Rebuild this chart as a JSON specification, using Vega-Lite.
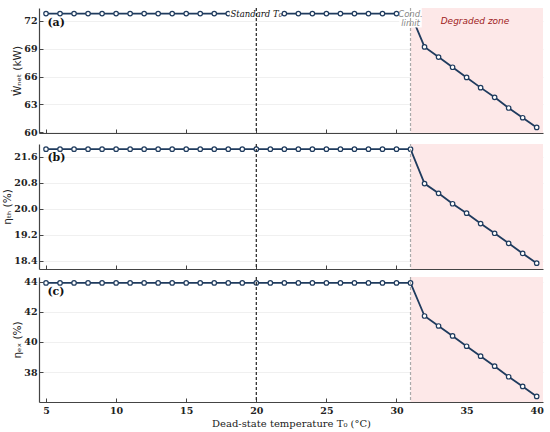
{
  "$schema": "https://vega.github.io/schema/vega-lite/v6.json",
  "background": "white",
  "padding": {"left": 2, "top": 7, "right": 7, "bottom": 0},
  "spacing": 6,
  "config": {
    "view": {"stroke": null},
    "axis": {
      "labelFont": "DejaVu Serif", "labelFontWeight": "bold", "labelFontSize": 9.5, "labelColor": "#222",
      "titleFont": "DejaVu Sans", "titleFontWeight": "normal", "titleFontSize": 10.5, "titleColor": "#222",
      "domainColor": "#444", "domainWidth": 1.2, "tickColor": "#444", "tickSize": -4, "labelPadding": 6,
      "labelOverlap": false, "minExtent": 0,
      "gridColor": "#ececec", "gridWidth": 0.8
    }
  },
  "datasets": {
    "perf": [
      {"T": 5, "W": 72.8, "th": 21.83, "ex": 43.91},
      {"T": 6, "W": 72.8, "th": 21.83, "ex": 43.91},
      {"T": 7, "W": 72.8, "th": 21.83, "ex": 43.91},
      {"T": 8, "W": 72.8, "th": 21.83, "ex": 43.91},
      {"T": 9, "W": 72.8, "th": 21.83, "ex": 43.91},
      {"T": 10, "W": 72.8, "th": 21.83, "ex": 43.91},
      {"T": 11, "W": 72.8, "th": 21.83, "ex": 43.91},
      {"T": 12, "W": 72.8, "th": 21.83, "ex": 43.91},
      {"T": 13, "W": 72.8, "th": 21.83, "ex": 43.91},
      {"T": 14, "W": 72.8, "th": 21.83, "ex": 43.91},
      {"T": 15, "W": 72.8, "th": 21.83, "ex": 43.91},
      {"T": 16, "W": 72.8, "th": 21.83, "ex": 43.91},
      {"T": 17, "W": 72.8, "th": 21.83, "ex": 43.91},
      {"T": 18, "W": 72.8, "th": 21.83, "ex": 43.91},
      {"T": 19, "W": 72.8, "th": 21.83, "ex": 43.91},
      {"T": 20, "W": 72.8, "th": 21.83, "ex": 43.91},
      {"T": 21, "W": 72.8, "th": 21.83, "ex": 43.91},
      {"T": 22, "W": 72.8, "th": 21.83, "ex": 43.91},
      {"T": 23, "W": 72.8, "th": 21.83, "ex": 43.91},
      {"T": 24, "W": 72.8, "th": 21.83, "ex": 43.91},
      {"T": 25, "W": 72.8, "th": 21.83, "ex": 43.91},
      {"T": 26, "W": 72.8, "th": 21.83, "ex": 43.91},
      {"T": 27, "W": 72.8, "th": 21.83, "ex": 43.91},
      {"T": 28, "W": 72.8, "th": 21.83, "ex": 43.91},
      {"T": 29, "W": 72.8, "th": 21.83, "ex": 43.91},
      {"T": 30, "W": 72.8, "th": 21.83, "ex": 43.91},
      {"T": 31, "W": 72.8, "th": 21.83, "ex": 43.91},
      {"T": 32, "W": 69.2, "th": 20.77, "ex": 41.72},
      {"T": 33, "W": 68.1, "th": 20.47, "ex": 41.06},
      {"T": 34, "W": 67.0, "th": 20.15, "ex": 40.4},
      {"T": 35, "W": 65.9, "th": 19.86, "ex": 39.72},
      {"T": 36, "W": 64.8, "th": 19.54, "ex": 39.06},
      {"T": 37, "W": 63.75, "th": 19.24, "ex": 38.4},
      {"T": 38, "W": 62.6, "th": 18.93, "ex": 37.7},
      {"T": 39, "W": 61.55, "th": 18.62, "ex": 37.06},
      {"T": 40, "W": 60.5, "th": 18.32, "ex": 36.4}
    ],
    "zone": [{"start": 31, "end": 40.45}],
    "refs": [{"T": 20, "kind": "standard"}, {"T": 31, "kind": "cond"}],
    "boxes": [
      {"x1": 18.1, "x2": 21.8, "y1": 72.25, "y2": 73.4},
      {"x1": 30.2, "x2": 31.8, "y1": 71.3, "y2": 73.4}
    ],
    "notes": [
      {"T": 20, "v": 72.8, "label": "Standard T₀", "kind": "std"},
      {"T": 31, "v": 72.8, "label": "Cond.\nlimit", "kind": "cond"},
      {"T": 35.6, "v": 72.0, "label": "Degraded zone", "kind": "zone"}
    ],
    "panels": [
      {"panel": "a", "T": 5.1, "v": 71.8, "label": "(a)"},
      {"panel": "b", "T": 5.1, "v": 21.56, "label": "(b)"},
      {"panel": "c", "T": 5.1, "v": 43.3, "label": "(c)"}
    ]
  },
  "vconcat": [
    {
      "width": 504, "height": 125,
      "layer": [
        {"data": {"name": "zone"}, "mark": {"type": "rect", "color": "#fde8e8"},
         "encoding": {"x": {"field": "start", "type": "quantitative", "scale": {"domain": [4.5, 40.45], "nice": false, "zero": false},
           "axis": {"values": [5,10,15,20,25,30,35,40], "labels": false, "title": null, "grid": false}}, "x2": {"field": "end"}}},
        {"data": {"name": "perf"}, "mark": {"type": "line", "color": "#1f3b5e", "strokeWidth": 1.8},
         "encoding": {"x": {"field": "T", "type": "quantitative"},
           "y": {"field": "W", "type": "quantitative", "scale": {"domain": [59.9, 73.4], "nice": false, "zero": false},
             "axis": {"values": [60,63,66,69,72], "labelOverlap": false, "title": "Ẇₙₑₜ (kW)", "grid": true, "titlePadding": 1}}}},
        {"data": {"name": "perf"}, "mark": {"type": "point", "shape": "circle", "filled": true, "fill": "white", "stroke": "#1f3b5e", "strokeWidth": 1.2, "size": 20, "opacity": 1},
         "encoding": {"x": {"field": "T", "type": "quantitative"}, "y": {"field": "W", "type": "quantitative",
             "axis": {"values": [60,63,66,69,72], "labelOverlap": false, "title": "Ẇₙₑₜ (kW)", "grid": true, "titlePadding": 1}}}},
        {"data": {"name": "boxes"}, "mark": {"type": "rect", "color": "white"},
         "encoding": {"x": {"field": "x1", "type": "quantitative"}, "x2": {"field": "x2"}, "y": {"field": "y1", "type": "quantitative",
             "axis": {"values": [60,63,66,69,72], "labelOverlap": false, "title": "Ẇₙₑₜ (kW)", "grid": true, "titlePadding": 1}}, "y2": {"field": "y2"}}},
        {"data": {"name": "refs"}, "transform": [{"filter": "datum.kind == 'standard'"}],
         "mark": {"type": "rule", "color": "#222", "strokeDash": [3, 2], "strokeWidth": 1.2},
         "encoding": {"x": {"field": "T", "type": "quantitative"}}},
        {"data": {"name": "refs"}, "transform": [{"filter": "datum.kind == 'cond'"}],
         "mark": {"type": "rule", "color": "#aaaaaa", "strokeDash": [3, 2], "strokeWidth": 1.2},
         "encoding": {"x": {"field": "T", "type": "quantitative"}}},
        {"data": {"name": "notes"}, "transform": [{"filter": "datum.kind == 'std'"}],
         "mark": {"type": "text", "font": "DejaVu Serif", "fontStyle": "italic", "fontSize": 8.5, "color": "#111", "align": "center", "baseline": "middle"},
         "encoding": {"x": {"field": "T", "type": "quantitative"}, "y": {"field": "v", "type": "quantitative",
             "axis": {"values": [60,63,66,69,72], "labelOverlap": false, "title": "Ẇₙₑₜ (kW)", "grid": true, "titlePadding": 1}}, "text": {"field": "label"}}},
        {"data": {"name": "notes"}, "transform": [{"filter": "datum.kind == 'cond'"}],
         "mark": {"type": "text", "font": "DejaVu Sans", "fontStyle": "italic", "fontSize": 8.5, "color": "#888", "align": "center", "baseline": "middle", "lineBreak": "\n", "lineHeight": 9.5},
         "encoding": {"x": {"field": "T", "type": "quantitative"}, "y": {"field": "v", "type": "quantitative",
             "axis": {"values": [60,63,66,69,72], "labelOverlap": false, "title": "Ẇₙₑₜ (kW)", "grid": true, "titlePadding": 1}}, "text": {"field": "label"}}},
        {"data": {"name": "notes"}, "transform": [{"filter": "datum.kind == 'zone'"}],
         "mark": {"type": "text", "font": "DejaVu Sans", "fontStyle": "italic", "fontSize": 9, "color": "#9e1b1b", "align": "center", "baseline": "middle"},
         "encoding": {"x": {"field": "T", "type": "quantitative"}, "y": {"field": "v", "type": "quantitative",
             "axis": {"values": [60,63,66,69,72], "labelOverlap": false, "title": "Ẇₙₑₜ (kW)", "grid": true, "titlePadding": 1}}, "text": {"field": "label"}}},
        {"data": {"name": "panels"}, "transform": [{"filter": "datum.panel == 'a'"}],
         "mark": {"type": "text", "font": "DejaVu Serif", "fontWeight": "bold", "fontSize": 11, "color": "#111", "align": "left", "baseline": "middle"},
         "encoding": {"x": {"field": "T", "type": "quantitative"}, "y": {"field": "v", "type": "quantitative",
             "axis": {"values": [60,63,66,69,72], "labelOverlap": false, "title": "Ẇₙₑₜ (kW)", "grid": true, "titlePadding": 1}}, "text": {"field": "label"}}}
      ]
    },
    {
      "width": 504, "height": 125,
      "layer": [
        {"data": {"name": "zone"}, "mark": {"type": "rect", "color": "#fde8e8"},
         "encoding": {"x": {"field": "start", "type": "quantitative", "scale": {"domain": [4.5, 40.45], "nice": false, "zero": false},
           "axis": {"values": [5,10,15,20,25,30,35,40], "labels": false, "title": null, "grid": false}}, "x2": {"field": "end"}}},
        {"data": {"name": "perf"}, "mark": {"type": "line", "color": "#1f3b5e", "strokeWidth": 1.8},
         "encoding": {"x": {"field": "T", "type": "quantitative"},
           "y": {"field": "th", "type": "quantitative", "scale": {"domain": [18.14, 21.99], "nice": false, "zero": false},
             "axis": {"values": [18.4,19.2,20.0,20.8,21.6], "labelOverlap": false, "format": ".1f", "title": "ηₜₕ (%)", "grid": true, "titlePadding": 1}}}},
        {"data": {"name": "perf"}, "mark": {"type": "point", "shape": "circle", "filled": true, "fill": "white", "stroke": "#1f3b5e", "strokeWidth": 1.2, "size": 20, "opacity": 1},
         "encoding": {"x": {"field": "T", "type": "quantitative"}, "y": {"field": "th", "type": "quantitative",
             "axis": {"values": [18.4,19.2,20.0,20.8,21.6], "labelOverlap": false, "format": ".1f", "title": "ηₜₕ (%)", "grid": true, "titlePadding": 1}}}},
        {"data": {"name": "refs"}, "transform": [{"filter": "datum.kind == 'standard'"}],
         "mark": {"type": "rule", "color": "#222", "strokeDash": [3, 2], "strokeWidth": 1.2},
         "encoding": {"x": {"field": "T", "type": "quantitative"}}},
        {"data": {"name": "refs"}, "transform": [{"filter": "datum.kind == 'cond'"}],
         "mark": {"type": "rule", "color": "#aaaaaa", "strokeDash": [3, 2], "strokeWidth": 1.2},
         "encoding": {"x": {"field": "T", "type": "quantitative"}}},
        {"data": {"name": "panels"}, "transform": [{"filter": "datum.panel == 'b'"}],
         "mark": {"type": "text", "font": "DejaVu Serif", "fontWeight": "bold", "fontSize": 11, "color": "#111", "align": "left", "baseline": "middle"},
         "encoding": {"x": {"field": "T", "type": "quantitative"}, "y": {"field": "v", "type": "quantitative",
             "axis": {"values": [18.4,19.2,20.0,20.8,21.6], "labelOverlap": false, "format": ".1f", "title": "ηₜₕ (%)", "grid": true, "titlePadding": 1}}, "text": {"field": "label"}}}
      ]
    },
    {
      "width": 504, "height": 125,
      "layer": [
        {"data": {"name": "zone"}, "mark": {"type": "rect", "color": "#fde8e8"},
         "encoding": {"x": {"field": "start", "type": "quantitative", "scale": {"domain": [4.5, 40.45], "nice": false, "zero": false},
           "axis": {"values": [5,10,15,20,25,30,35,40], "title": "Dead-state temperature T₀ (°C)", "titleFont": "DejaVu Serif", "titleFontSize": 10, "grid": false, "labelPadding": 7, "titlePadding": 4}}, "x2": {"field": "end"}}},
        {"data": {"name": "perf"}, "mark": {"type": "line", "color": "#1f3b5e", "strokeWidth": 1.8},
         "encoding": {"x": {"field": "T", "type": "quantitative"},
           "y": {"field": "ex", "type": "quantitative", "scale": {"domain": [36.03, 44.3], "nice": false, "zero": false},
             "axis": {"values": [38,40,42,44], "labelOverlap": false, "title": "ηₑₓ (%)", "grid": true, "titlePadding": 1}}}},
        {"data": {"name": "perf"}, "mark": {"type": "point", "shape": "circle", "filled": true, "fill": "white", "stroke": "#1f3b5e", "strokeWidth": 1.2, "size": 20, "opacity": 1},
         "encoding": {"x": {"field": "T", "type": "quantitative"}, "y": {"field": "ex", "type": "quantitative",
             "axis": {"values": [38,40,42,44], "labelOverlap": false, "title": "ηₑₓ (%)", "grid": true, "titlePadding": 1}}}},
        {"data": {"name": "refs"}, "transform": [{"filter": "datum.kind == 'standard'"}],
         "mark": {"type": "rule", "color": "#222", "strokeDash": [3, 2], "strokeWidth": 1.2},
         "encoding": {"x": {"field": "T", "type": "quantitative"}}},
        {"data": {"name": "refs"}, "transform": [{"filter": "datum.kind == 'cond'"}],
         "mark": {"type": "rule", "color": "#aaaaaa", "strokeDash": [3, 2], "strokeWidth": 1.2},
         "encoding": {"x": {"field": "T", "type": "quantitative"}}},
        {"data": {"name": "panels"}, "transform": [{"filter": "datum.panel == 'c'"}],
         "mark": {"type": "text", "font": "DejaVu Serif", "fontWeight": "bold", "fontSize": 11, "color": "#111", "align": "left", "baseline": "middle"},
         "encoding": {"x": {"field": "T", "type": "quantitative"}, "y": {"field": "v", "type": "quantitative",
             "axis": {"values": [38,40,42,44], "labelOverlap": false, "title": "ηₑₓ (%)", "grid": true, "titlePadding": 1}}, "text": {"field": "label"}}}
      ]
    }
  ]
}
